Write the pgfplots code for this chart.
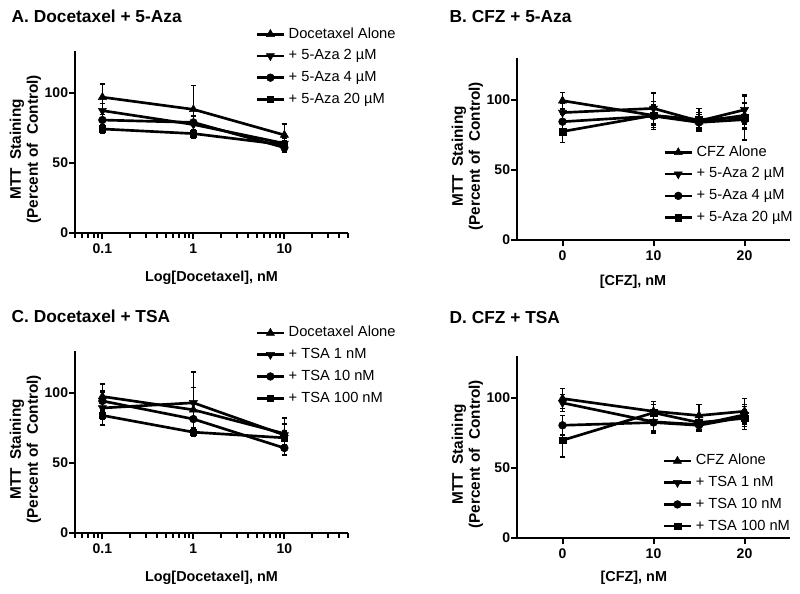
\documentclass[border=0pt]{standalone}
\usepackage{fontspec}
\setmainfont{Liberation Sans}
\usepackage{pgfplots}
\pgfplotsset{compat=1.18}

\pgfplotsset{
  mtt/.style={
    scale only axis, width=204.75pt, height=136.5pt,
    anchor=south west,
    axis lines=left, axis line style={-, line width=2pt, black},
    ymin=0, ymax=130, ytick={0,50,100},
    tick align=outside,
    major tick length=4.5pt, minor tick length=3.5pt,
    every tick/.style={black, line width=1.5pt},
    /pgf/number format/assume math mode=true,
    ticklabel style={font=\bfseries\fontsize{10.5}{12}\selectfont},
    yticklabel style={inner xsep=0.5pt},
    ylabel={MTT\ \ Staining\\(Percent of\ \ Control)},
    ylabel style={font=\bfseries\fontsize{11.5}{12.75}\selectfont, align=center,
      at={(axis description cs:-0.182,0.46)}, anchor=center},
    xlabel style={font=\bfseries\fontsize{10.8}{13}\selectfont, anchor=center},
    legend style={draw=none, fill=none, inner sep=0pt, outer sep=0pt,
      anchor=north west, row sep=4.1pt, column sep=1.75pt,
      font=\fontsize{11}{13}\selectfont,
      nodes={inner sep=1pt, text height=8pt, text depth=2.2pt}},
    legend cell align=left,
    legend image code/.code={\draw[mark repeat=2, mark phase=2]
      plot coordinates {(0pt,0pt) (10pt,0pt) (20pt,0pt)};},
    every axis plot/.append style={black, line width=2pt},
    error bars/y dir=both, error bars/y explicit,
    error bars/error bar style={line width=1.1pt, black},
    error bars/error mark options={rotate=90, mark size=2pt, line width=1.1pt, black},
  },
  logticks/.style={
    xmin=0.05, xmax=50,
    xtick={0.1,1,10}, xticklabels={0.1,1,10},
    minor xtick={0.05,0.06,0.07,0.08,0.09,0.2,0.3,0.4,0.5,0.6,0.7,0.8,0.9,
      2,3,4,5,6,7,8,9,20,30,40,50},
  },
  linticks/.style={xmin=-5, xmax=25, xtick={0,10,20}},
  s1/.style={mark=triangle*, mark size=3.5pt, mark options={line width=0.4pt}},
  s2/.style={mark=triangle*, mark size=3.5pt, mark options={rotate=180, line width=0.4pt}},
  s3/.style={mark=*, mark size=2.9pt, mark options={line width=0.4pt}},
  s4/.style={mark=square*, mark size=2.5pt, mark options={line width=0.4pt}},
}

\begin{document}
\begin{tikzpicture}
\path[use as bounding box] (0,0) rectangle (600pt,444.75pt);

\node[anchor=base west, font=\bfseries\fontsize{13}{15}\selectfont] at (5.25pt,427.5pt) {A. Docetaxel + 5-Aza};
\node[anchor=base west, font=\bfseries\fontsize{13}{15}\selectfont] at (333.75pt,427.5pt) {B. CFZ + 5-Aza};
\node[anchor=base west, font=\bfseries\fontsize{13}{15}\selectfont] at (5.25pt,202.5pt) {C. Docetaxel + TSA};
\node[anchor=base west, font=\bfseries\fontsize{13}{15}\selectfont] at (333.75pt,201.75pt) {D. CFZ + TSA};

% A. Docetaxel + 5-Aza
\begin{axis}[xmode=log, mtt, logticks, at={(56.25pt,270pt)},
  legend style={at={(0.662,1.137)}},
  xlabel={Log[Docetaxel], nM},
  xlabel style={at={(axis description cs:0.5,-0.247)}}]
\addplot[s1] coordinates {(0.1,97.0) +- (0,9.5) (1,88.3) +- (0,17) (10,70.0) +- (0,8)};
\addplot[s2] coordinates {(0.1,87.4) +- (0,5) (1,77.5) +- (0,6) (10,64.0) +- (0,4)};
\addplot[s3] coordinates {(0.1,80.7) +- (0,4) (1,79.0) +- (0,5) (10,61.0) +- (0,3)};
\addplot[s4] coordinates {(0.1,74.3) +- (0,3) (1,71.0) +- (0,3) (10,63.0) +- (0,3)};
\legend{Docetaxel Alone, + 5-Aza 2 µM, + 5-Aza 4 µM, + 5-Aza 20 µM}
\end{axis}

% B. CFZ + 5-Aza
\begin{axis}[mtt, linticks, at={(387.75pt,264.75pt)},
  legend style={at={(0.537,0.526)}},
  xlabel={[CFZ], nM},
  xlabel style={at={(axis description cs:0.425,-0.231)}}]
\addplot[s1] coordinates {(0,99.5) +- (0,6) (10,89.0) +- (0,7) (15,84.5) +- (0,5) (20,89.0) +- (0,9)};
\addplot[s2] coordinates {(0,91.0) +- (0,7) (10,94.0) +- (0,11) (15,85.0) +- (0,6) (20,93.0) +- (0,10)};
\addplot[s3] coordinates {(0,84.5) +- (0,5) (10,88.5) +- (0,8) (15,84.0) +- (0,4) (20,86.0) +- (0,7)};
\addplot[s4] coordinates {(0,77.5) +- (0,8) (10,89.0) +- (0,10) (15,86.0) +- (0,8) (20,87.5) +- (0,16)};
\legend{CFZ Alone, + 5-Aza 2 µM, + 5-Aza 4 µM, + 5-Aza 20 µM}
\end{axis}

% C. Docetaxel + TSA
\begin{axis}[xmode=log, mtt, logticks, at={(56.25pt,45pt)},
  legend style={at={(0.662,1.1436)}},
  xlabel={Log[Docetaxel], nM},
  xlabel style={at={(axis description cs:0.5,-0.247)}}]
\addplot[s1] coordinates {(0.1,97.5) +- (0,9) (1,88.0) +- (0,16) (10,71.0) +- (0,11)};
\addplot[s2] coordinates {(0.1,89.3) +- (0,12) (1,93.0) +- (0,22) (10,70.0) +- (0,8)};
\addplot[s3] coordinates {(0.1,94.3) +- (0,6) (1,81.4) +- (0,7) (10,60.7) +- (0,5)};
\addplot[s4] coordinates {(0.1,84.0) +- (0,3) (1,72.0) +- (0,3) (10,68.0) +- (0,5)};
\legend{Docetaxel Alone, + TSA 1 nM, + TSA 10 nM, + TSA 100 nM}
\end{axis}

% D. CFZ + TSA
\begin{axis}[mtt, linticks, at={(387.75pt,41.25pt)},
  legend style={at={(0.534,0.468)}},
  xlabel={[CFZ], nM},
  xlabel style={at={(axis description cs:0.428,-0.22)}}]
\addplot[s1] coordinates {(0,99.6) +- (0,7) (10,90.5) +- (0,7) (15,87.5) +- (0,8) (20,90.5) +- (0,9)};
\addplot[s2] coordinates {(0,96.5) +- (0,6) (10,83.0) +- (0,8) (15,81.0) +- (0,5) (20,88.0) +- (0,6)};
\addplot[s3] coordinates {(0,80.5) +- (0,7) (10,82.5) +- (0,6) (15,80.5) +- (0,4) (20,86.5) +- (0,9)};
\addplot[s4] coordinates {(0,69.8) +- (0,12) (10,89.5) +- (0,6) (15,82.5) +- (0,5) (20,85.5) +- (0,6)};
\legend{CFZ Alone, + TSA 1 nM, + TSA 10 nM, + TSA 100 nM}
\end{axis}
\end{tikzpicture}
\end{document}
